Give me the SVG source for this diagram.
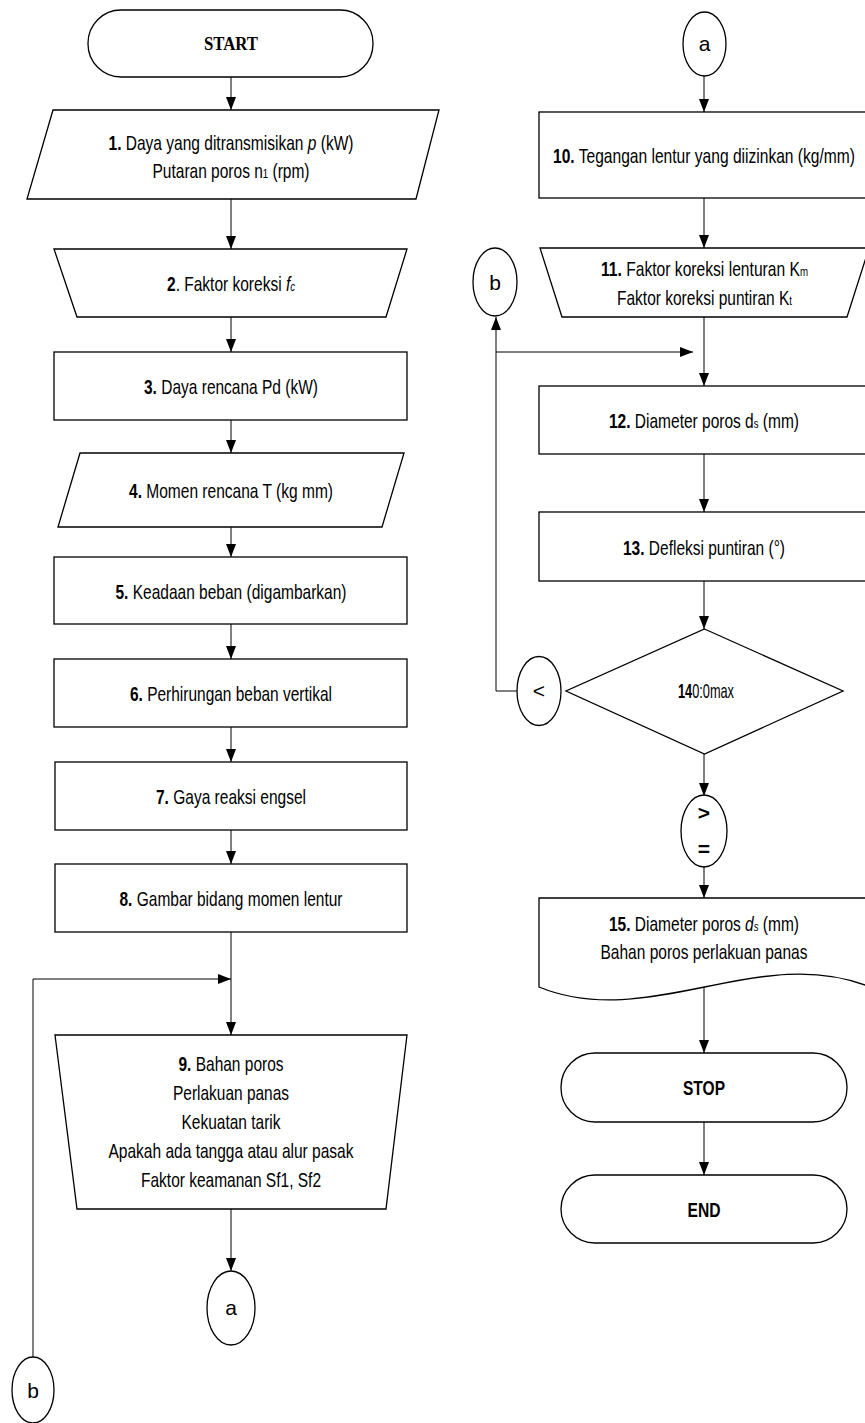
<svg xmlns="http://www.w3.org/2000/svg" width="865" height="1423" viewBox="0 0 865 1423">
<style>
.s{fill:#fff;stroke:#000;stroke-width:1.3}
.l{fill:none;stroke:#000;stroke-width:1}
.t{font-family:"Liberation Sans Narrow","Liberation Sans",Arial,sans-serif;font-size:21px;fill:#000;text-anchor:middle}
.b{font-weight:bold}
.i{font-style:italic}
.sub{font-size:13px}
.serif{font-family:"Liberation Serif","Times New Roman",serif;font-size:18px;font-weight:bold;fill:#000;text-anchor:middle}
</style>
<defs>
<marker id="ah" markerUnits="userSpaceOnUse" markerWidth="14" markerHeight="10" refX="13" refY="5" orient="auto"><path d="M0,0 L13,5 L0,10 Z" fill="#000"/></marker>
</defs>
<rect width="865" height="1423" fill="#fff"/>
<g id="connectors">
<line class="l" x1="231" y1="77" x2="231" y2="110" marker-end="url(#ah)"/>
<line class="l" x1="231" y1="199" x2="231" y2="249" marker-end="url(#ah)"/>
<line class="l" x1="231" y1="317" x2="231" y2="352" marker-end="url(#ah)"/>
<line class="l" x1="231" y1="420" x2="231" y2="453" marker-end="url(#ah)"/>
<line class="l" x1="231" y1="527" x2="231" y2="557" marker-end="url(#ah)"/>
<line class="l" x1="231" y1="624" x2="231" y2="659" marker-end="url(#ah)"/>
<line class="l" x1="231" y1="727" x2="231" y2="762" marker-end="url(#ah)"/>
<line class="l" x1="231" y1="830" x2="231" y2="864" marker-end="url(#ah)"/>
<line class="l" x1="231" y1="932" x2="231" y2="1035" marker-end="url(#ah)"/>
<polyline class="l" points="33,1357 33,979 231,979" marker-end="url(#ah)"/>
<line class="l" x1="231" y1="1209" x2="231" y2="1271" marker-end="url(#ah)"/>
<line class="l" x1="704" y1="76" x2="704" y2="112" marker-end="url(#ah)"/>
<line class="l" x1="704" y1="198" x2="704" y2="248" marker-end="url(#ah)"/>
<line class="l" x1="704" y1="317" x2="704" y2="386" marker-end="url(#ah)"/>
<polyline class="l" points="517,691 496,691 496,317" marker-end="url(#ah)"/>
<line class="l" x1="496" y1="352" x2="693" y2="352" marker-end="url(#ah)"/>
<line class="l" x1="704" y1="454" x2="704" y2="512" marker-end="url(#ah)"/>
<line class="l" x1="704" y1="581" x2="704" y2="629" marker-end="url(#ah)"/>
<line class="l" x1="704" y1="754" x2="704" y2="796" marker-end="url(#ah)"/>
<line class="l" x1="704" y1="867" x2="704" y2="898" marker-end="url(#ah)"/>
<line class="l" x1="704" y1="987" x2="704" y2="1053" marker-end="url(#ah)"/>
<line class="l" x1="704" y1="1122" x2="704" y2="1175" marker-end="url(#ah)"/>
</g>
<g id="start">
<rect class="s" x="88" y="10" width="285" height="67" rx="33" ry="33"/>
<text class="serif" x="231" y="50" textLength="54" lengthAdjust="spacingAndGlyphs">START</text>
</g>
<g id="n1">
<polygon class="s" points="53,110 439,110 416,199 27,199"/>
<text class="t" x="231" y="150" textLength="245" lengthAdjust="spacingAndGlyphs"><tspan class="b">1.</tspan> Daya yang ditransmisikan <tspan class="i">p</tspan> (kW)</text>
<text class="t" x="231" y="178" textLength="157" lengthAdjust="spacingAndGlyphs">Putaran poros n<tspan class="sub">1</tspan> (rpm)</text>
</g>
<g id="n2">
<polygon class="s" points="54,249 407,249 386,317 77,317"/>
<text class="t" x="231" y="291" textLength="128" lengthAdjust="spacingAndGlyphs"><tspan class="b">2</tspan>. Faktor koreksi <tspan class="i">f</tspan><tspan class="sub i">c</tspan></text>
</g>
<g id="n3">
<rect class="s" x="54" y="352" width="353" height="68"/>
<text class="t" x="231" y="394" textLength="174" lengthAdjust="spacingAndGlyphs"><tspan class="b">3.</tspan> Daya rencana Pd (kW)</text>
</g>
<g id="n4">
<polygon class="s" points="80,453 404,453 382,527 58,527"/>
<text class="t" x="231" y="498" textLength="204" lengthAdjust="spacingAndGlyphs"><tspan class="b">4.</tspan> Momen rencana T (kg mm)</text>
</g>
<g id="n5">
<rect class="s" x="54" y="557" width="353" height="67"/>
<text class="t" x="231" y="599" textLength="231" lengthAdjust="spacingAndGlyphs"><tspan class="b">5.</tspan> Keadaan beban (digambarkan)</text>
</g>
<g id="n6">
<rect class="s" x="54" y="659" width="353" height="68"/>
<text class="t" x="231" y="701" textLength="202" lengthAdjust="spacingAndGlyphs"><tspan class="b">6.</tspan> Perhirungan beban vertikal</text>
</g>
<g id="n7">
<rect class="s" x="55" y="762" width="352" height="68"/>
<text class="t" x="231" y="804" textLength="150" lengthAdjust="spacingAndGlyphs"><tspan class="b">7.</tspan> Gaya reaksi engsel</text>
</g>
<g id="n8">
<rect class="s" x="55" y="864" width="352" height="68"/>
<text class="t" x="231" y="906" textLength="223" lengthAdjust="spacingAndGlyphs"><tspan class="b">8.</tspan> Gambar bidang momen lentur</text>
</g>
<g id="n9">
<polygon class="s" points="55,1035 407,1035 386,1209 77,1209"/>
<text class="t" x="231" y="1071" textLength="105" lengthAdjust="spacingAndGlyphs"><tspan class="b">9.</tspan> Bahan poros</text>
<text class="t" x="231" y="1100" textLength="116" lengthAdjust="spacingAndGlyphs">Perlakuan panas</text>
<text class="t" x="231" y="1129" textLength="99" lengthAdjust="spacingAndGlyphs">Kekuatan tarik</text>
<text class="t" x="231" y="1158" textLength="245" lengthAdjust="spacingAndGlyphs">Apakah ada tangga atau alur pasak</text>
<text class="t" x="231" y="1187" textLength="180" lengthAdjust="spacingAndGlyphs">Faktor keamanan Sf1, Sf2</text>
</g>
<g id="conn-a-out">
<ellipse class="s" cx="231" cy="1308" rx="24" ry="37"/>
<text class="t" x="231" y="1315">a</text>
</g>
<g id="conn-b-out">
<ellipse class="s" cx="33" cy="1390" rx="21" ry="33"/>
<text class="t" x="33" y="1398">b</text>
</g>
<g id="conn-a-in">
<ellipse class="s" cx="704.5" cy="44" rx="21.5" ry="32"/>
<text class="t" x="704.5" y="51">a</text>
</g>
<g id="n10">
<rect class="s" x="539" y="112" width="331" height="86"/>
<text class="t" x="704" y="163" textLength="302" lengthAdjust="spacingAndGlyphs"><tspan class="b">10.</tspan> Tegangan lentur yang diizinkan (kg/mm)</text>
</g>
<g id="n11">
<polygon class="s" points="540,248 869,248 847,317 562,317"/>
<text class="t" x="704.5" y="276" textLength="207" lengthAdjust="spacingAndGlyphs"><tspan class="b">11.</tspan> Faktor koreksi lenturan K<tspan class="sub">m</tspan></text>
<text class="t" x="704.5" y="305" textLength="175" lengthAdjust="spacingAndGlyphs">Faktor koreksi puntiran K<tspan class="sub">t</tspan></text>
</g>
<g id="conn-b-in">
<ellipse class="s" cx="495" cy="282" rx="22" ry="34"/>
<text class="t" x="495" y="290">b</text>
</g>
<g id="n12">
<rect class="s" x="539" y="386" width="331" height="68"/>
<text class="t" x="704" y="428" textLength="190" lengthAdjust="spacingAndGlyphs"><tspan class="b">12.</tspan> Diameter poros d<tspan class="sub">s</tspan> (mm)</text>
</g>
<g id="n13">
<rect class="s" x="539" y="512" width="331" height="69"/>
<text class="t" x="704" y="555" textLength="162" lengthAdjust="spacingAndGlyphs"><tspan class="b">13.</tspan> Defleksi puntiran (°)</text>
</g>
<g id="n14">
<polygon class="s" points="704.5,629 843,691 704.5,754 566,691"/>
<text class="t" x="706" y="698" textLength="56" lengthAdjust="spacingAndGlyphs"><tspan class="b">14</tspan>0:0max</text>
</g>
<g id="conn-lt">
<ellipse class="s" cx="539" cy="691" rx="22" ry="34.5"/>
<text class="t" x="539" y="698">&lt;</text>
</g>
<g id="conn-ge">
<ellipse class="s" cx="704" cy="831" rx="23" ry="36"/>
<text class="t b" x="704" y="820">&gt;</text>
<text class="t b" x="704" y="856">=</text>
</g>
<g id="n15">
<path class="s" d="M539,987 V898 H870 V987 C 760,942 649,1032 539,987 Z"/>
<text class="t" x="704" y="931" textLength="190" lengthAdjust="spacingAndGlyphs"><tspan class="b">15.</tspan> Diameter poros <tspan class="i">d</tspan><tspan class="sub i">s</tspan> (mm)</text>
<text class="t" x="704" y="959" textLength="207" lengthAdjust="spacingAndGlyphs">Bahan poros perlakuan panas</text>
</g>
<g id="stop">
<rect class="s" x="561" y="1053" width="286" height="69" rx="34" ry="34"/>
<text class="t b" x="704" y="1095" textLength="42" lengthAdjust="spacingAndGlyphs">STOP</text>
</g>
<g id="end">
<rect class="s" x="561" y="1175" width="286" height="68" rx="34" ry="34"/>
<text class="t b" x="704" y="1217" textLength="33" lengthAdjust="spacingAndGlyphs">END</text>
</g>
</svg>
